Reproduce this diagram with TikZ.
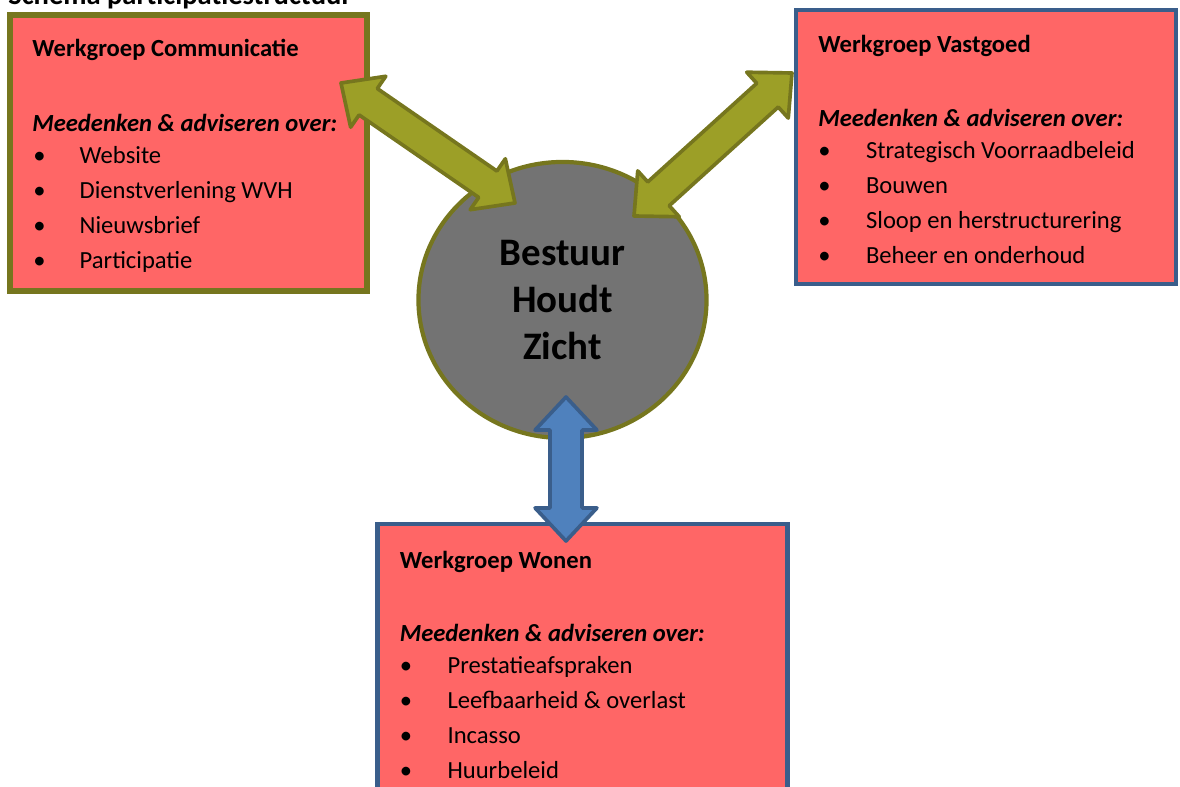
\documentclass[tikz,border=0pt]{standalone}
\usepackage{fontspec}
\setmainfont{Carlito}
\usetikzlibrary{shapes.geometric,calc}

\definecolor{boxred}{HTML}{FF6666}
\definecolor{oliveline}{HTML}{76761E}
\definecolor{olivefill}{HTML}{9C9F27}
\definecolor{blueline}{HTML}{3A5E8B}
\definecolor{bluefill}{HTML}{4F81BD}
\definecolor{bestuurgray}{HTML}{737373}

\tikzset{
  groupbox/.style={draw, rectangle, fill=boxred, inner sep=0pt},
  grouptitle/.style={anchor=base west, inner sep=0pt, font=\fontsize{17.5}{21}\selectfont\bfseries},
  grouplead/.style={anchor=base west, inner sep=0pt, font=\fontsize{17.5}{21}\selectfont\bfseries\itshape},
  listitem/.style={anchor=base west, inner sep=0pt, font=\fontsize{17.5}{21}\selectfont},
  olivearrow/.style={draw=oliveline, fill=olivefill, line width=2.6pt, line join=round},
  bluearrow/.style={draw=blueline, fill=bluefill, line width=2.6pt, line join=round}
}

% fat double arrow between two named points
\newcommand{\fatarrow}[3]{%
  \path let \p1=($(#3)-(#2)$), \n1={atan2(\y1,\x1)}, \n2={veclen(\x1,\y1)} in
    \pgfextra{\xdef\arrang{\n1}\xdef\arrlen{\n2}};
  \draw[#1, shift={(#2)}, rotate=\arrang]
    (0pt,0pt) -- (23.5pt,22pt) -- (23.5pt,11.4pt) -- ({\arrlen-23.5pt},11.4pt)
    -- ({\arrlen-23.5pt},22pt) -- ({\arrlen+0pt},0pt) -- ({\arrlen-23.5pt},-22pt)
    -- ({\arrlen-23.5pt},-11.4pt) -- (23.5pt,-11.4pt) -- (23.5pt,-22pt) -- cycle;
}

\begin{document}
\begin{tikzpicture}[x=0.025cm, y=-0.025cm]
  \useasboundingbox (0,0) rectangle (1180,787);
  \node[anchor=base west, inner sep=0pt, font=\fontsize{20.3}{24}\selectfont\bfseries] (schema) at (8,4.5) {Schema participatiestructuur};

  % werkgroepen
  \node[groupbox, draw=oliveline, line width=4pt, minimum width=8.925cm, minimum height=6.9cm] (communicatie) at (188.5,153) {};
  \node[groupbox, draw=blueline, line width=3pt, minimum width=9.5cm, minimum height=6.85cm] (vastgoed) at (986,147) {};
  \node[groupbox, draw=blueline, line width=3pt, minimum width=10.25cm, minimum height=7.4cm] (wonen) at (582.5,672) {};

  \node[ellipse, draw=oliveline, fill=bestuurgray, line width=3pt, inner sep=0pt, minimum width=7.2cm, minimum height=6.9cm,
        align=center, font=\fontsize{27.7}{33.4}\selectfont\bfseries] (bestuur) at (562.5,300) {Bestuur\\Houdt\\Zicht};

  % Communicatie
  \node[grouptitle] (commTitle) at (32,57) {Werkgroep Communicatie};
  \node[grouplead] (commLead) at (32,131.7) {Meedenken \& adviseren over:};
  \foreach \txt [count=\i from 0] in {Website, Dienstverlening WVH, Nieuwsbrief, Participatie}
    \node[listitem] (commItem\i) at (33,{163.2+35*\i}) {\makebox[33pt][l]{\textbullet}\txt};

  % Vastgoed
  \node[grouptitle] (vastTitle) at (818,53) {Werkgroep Vastgoed};
  \node[grouplead] (vastLead) at (818,127) {Meedenken \& adviseren over:};
  \foreach \txt [count=\i from 0] in {Strategisch Voorraadbeleid, Bouwen, Sloop en herstructurering, Beheer en onderhoud}
    \node[listitem] (vastItem\i) at (818,{158.5+35*\i}) {\makebox[34pt][l]{\textbullet}\txt};

  % Wonen
  \node[grouptitle] (wonenTitle) at (399.5,568.3) {Werkgroep Wonen};
  \node[grouplead] (wonenLead) at (399.5,641.7) {Meedenken \& adviseren over:};
  \foreach \txt [count=\i from 0] in {Prestatieafspraken, Leefbaarheid \& overlast, Incasso, Huurbeleid}
    \node[listitem] (wonenItem\i) at (399.5,{673+35.2*\i}) {\makebox[34pt][l]{\textbullet}\txt};

  % pijlen
  \coordinate (commTip) at (341,83);
  \coordinate (bestuurTipC) at (515,203);
  \coordinate (vastTip) at (792,73);
  \coordinate (bestuurTipV) at (634,216);
  \coordinate (bestuurTipW) at (566,397);
  \coordinate (wonenTip) at (566,541);
  \fatarrow{olivearrow}{commTip}{bestuurTipC}
  \fatarrow{olivearrow}{bestuurTipV}{vastTip}
  \fatarrow{bluearrow}{bestuurTipW}{wonenTip}
\end{tikzpicture}
\end{document}
